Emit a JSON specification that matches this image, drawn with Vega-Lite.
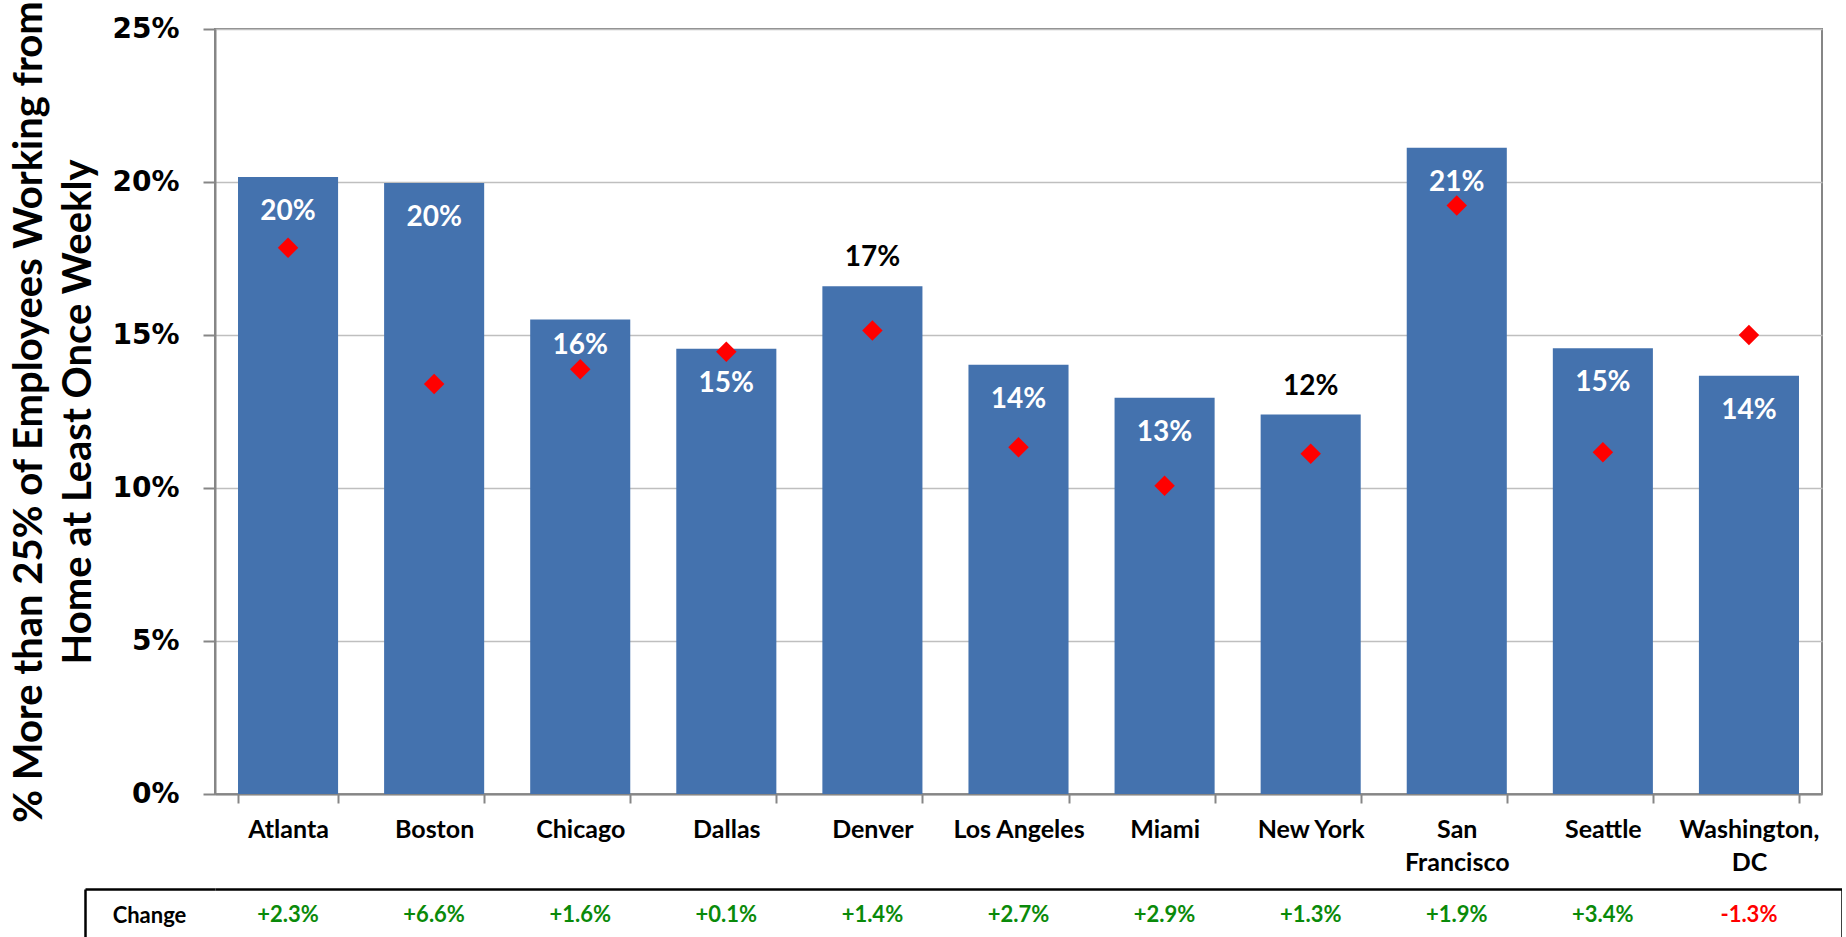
{
  "$schema": "https://vega.github.io/schema/vega-lite/v6.json",
  "background": "white",
  "padding": {"left": 8, "top": -1, "right": 0, "bottom": 0},
  "spacing": 95,
  "bounds": "flush",
  "resolve": {"scale": {"x": "independent", "y": "independent"}},
  "datasets": {
    "cities": [
      {"city": "Atlanta", "pct": 0.2016, "prev": 0.1785, "change": "+2.3%", "pos": "in"},
      {"city": "Boston", "pct": 0.1997, "prev": 0.1340, "change": "+6.6%", "pos": "in"},
      {"city": "Chicago", "pct": 0.1551, "prev": 0.1388, "change": "+1.6%", "pos": "inhi"},
      {"city": "Dallas", "pct": 0.1455, "prev": 0.1445, "change": "+0.1%", "pos": "in"},
      {"city": "Denver", "pct": 0.1659, "prev": 0.1515, "change": "+1.4%", "pos": "out"},
      {"city": "Los Angeles", "pct": 0.1403, "prev": 0.1133, "change": "+2.7%", "pos": "in"},
      {"city": "Miami", "pct": 0.1295, "prev": 0.1007, "change": "+2.9%", "pos": "in"},
      {"city": "New York", "pct": 0.1240, "prev": 0.1112, "change": "+1.3%", "pos": "out"},
      {"city": "San Francisco", "pct": 0.2112, "prev": 0.1923, "change": "+1.9%", "pos": "in"},
      {"city": "Seattle", "pct": 0.1457, "prev": 0.1117, "change": "+3.4%", "pos": "in"},
      {"city": "Washington, DC", "pct": 0.1367, "prev": 0.1500, "change": "-1.3%", "pos": "in"}
    ]
  },
  "vconcat": [
    {
      "width": 1607,
      "height": 765,
      "view": {"stroke": "#868686", "strokeWidth": 2},
      "data": {"name": "cities"},
      "encoding": {
        "x": {
          "field": "city", "type": "nominal", "sort": null,
          "scale": {"paddingInner": 0.315, "paddingOuter": 0.1575},
          "axis": {
            "title": null, "labelAngle": 0, "labelFont": "Lato", "labelFontSize": 25,
            "labelFontWeight": "bold", "labelColor": "black", "labelPadding": 14,
            "labelLineHeight": 33, "labelLimit": 0, "tickBand": "extent", "tickSize": 9,
            "tickColor": "#868686", "tickWidth": 2, "domainColor": "#868686", "domainWidth": 2,
            "labelExpr": "datum.label == 'San Francisco' ? ['San', 'Francisco'] : datum.label == 'Washington, DC' ? ['Washington,', 'DC'] : datum.label"
          }
        }
      },
      "layer": [
        {
          "mark": {"type": "bar", "color": "#4472AE"},
          "encoding": {
            "y": {
              "field": "pct", "type": "quantitative",
              "scale": {"domain": [0, 0.25], "nice": false},
              "axis": {
                "title": ["% More than 25% of Employees Working from", "Home at Least Once Weekly"],
                "values": [0, 0.05, 0.1, 0.15, 0.2, 0.25], "format": ".0%",
                "labelFont": "DejaVu Sans", "labelFontSize": 28, "labelFontWeight": "bold",
                "labelColor": "black", "labelPadding": 24, "tickSize": 12, "tickColor": "#868686",
                "tickWidth": 2, "domainColor": "#868686", "domainWidth": 2,
                "gridColor": "#BFBFBF", "gridWidth": 1.5,
                "titleFont": "Lato", "titleFontSize": 40, "titleFontWeight": "bold",
                "titleColor": "black", "titleLineHeight": 49, "titlePadding": 13
              }
            }
          }
        },
        {
          "mark": {"type": "point", "shape": "diamond", "filled": true, "color": "#FF0000", "size": 420, "opacity": 1},
          "encoding": {"y": {"field": "prev", "type": "quantitative"}}
        },
        {
          "transform": [{"filter": "datum.pos == 'in'"}],
          "mark": {"type": "text", "font": "Lato", "fontSize": 28, "fontWeight": "bold", "color": "white", "dy": 35, "baseline": "middle"},
          "encoding": {"y": {"field": "pct", "type": "quantitative"}, "text": {"field": "pct", "format": ".0%"}}
        },
        {
          "transform": [{"filter": "datum.pos == 'inhi'"}],
          "mark": {"type": "text", "font": "Lato", "fontSize": 28, "fontWeight": "bold", "color": "white", "dy": 27, "baseline": "middle"},
          "encoding": {"y": {"field": "pct", "type": "quantitative"}, "text": {"field": "pct", "format": ".0%"}}
        },
        {
          "transform": [{"filter": "datum.pos == 'out'"}],
          "mark": {"type": "text", "font": "Lato", "fontSize": 28, "fontWeight": "bold", "color": "black", "dy": -28, "baseline": "middle"},
          "encoding": {"y": {"field": "pct", "type": "quantitative"}, "text": {"field": "pct", "format": ".0%"}}
        }
      ]
    },
    {
      "width": 1627,
      "height": 52,
      "view": {"stroke": null},
      "data": {"name": "cities"},
      "resolve": {"scale": {"y": "independent"}, "axis": {"y": "independent"}},
      "layer": [
        {
          "mark": {"type": "text", "font": "Lato", "fontSize": 22, "fontWeight": "bold", "baseline": "middle"},
          "encoding": {
            "x": {
              "field": "city", "type": "nominal", "sort": null, "bandPosition": 0.5,
              "scale": {"type": "band", "paddingInner": 0, "paddingOuter": 0.0686, "align": 0},
              "axis": {"orient": "top", "title": null, "labels": false, "ticks": false, "domainColor": "black", "domainWidth": 2.5}
            },
            "y": {
              "datum": "Change", "type": "nominal",
              "scale": {"type": "band", "paddingInner": 0, "paddingOuter": 0},
              "axis": {
                "orient": "left", "title": null, "offset": 130, "grid": false,
                "domainColor": "black", "domainWidth": 2.5,
                "tickBand": "extent", "tickSize": -130, "tickColor": "black", "tickWidth": 2.5,
                "labelFont": "Lato", "labelFontSize": 22, "labelFontWeight": "bold", "labelColor": "black",
                "labelAlign": "center", "labelPadding": 66
              }
            },
            "text": {"field": "change"},
            "color": {"condition": {"test": "indexof(datum.change, '-') == 0", "value": "#FF0000"}, "value": "#0A8A0A"}
          }
        },
        {
          "mark": {"type": "text", "text": ""},
          "encoding": {
            "y": {
              "datum": "Change", "type": "nominal",
              "scale": {"type": "band", "paddingInner": 0, "paddingOuter": 0},
              "axis": {"orient": "right", "title": null, "labels": false, "ticks": false, "grid": false, "domainColor": "black", "domainWidth": 2.5}
            }
          }
        }
      ]
    }
  ]
}
